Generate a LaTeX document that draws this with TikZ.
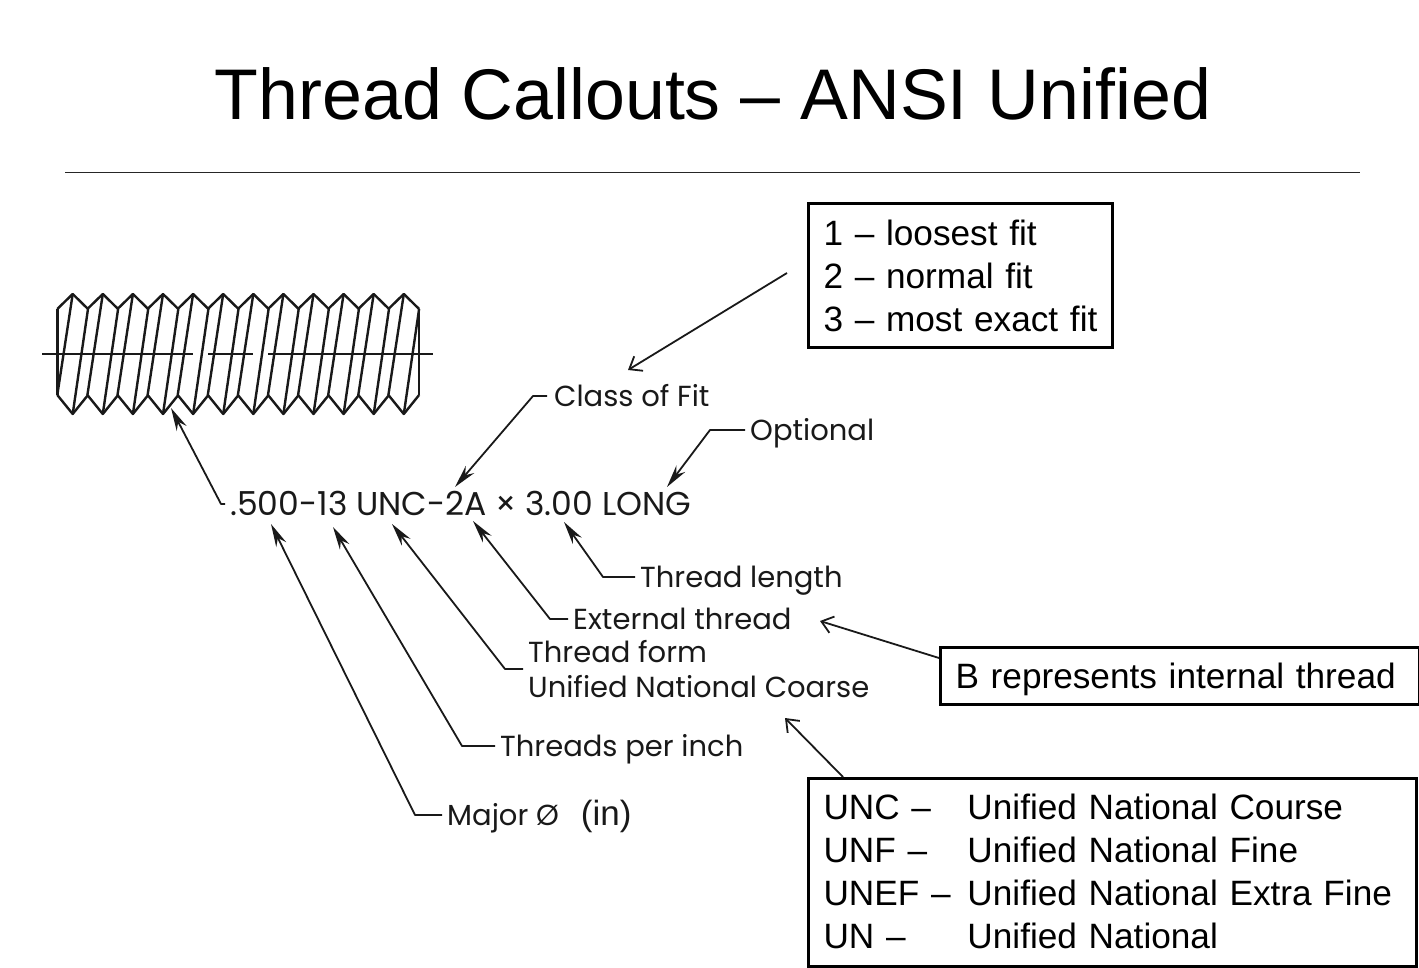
\documentclass[tikz,border=0pt]{standalone}
\usepackage{fontspec}
\setmainfont{Liberation Sans}
\newfontfamily\gothicfont{Poppins}
\usetikzlibrary{arrows.meta}
\begin{document}
\begin{tikzpicture}[x=1pt,y=-1pt,
	thread line/.style={line width=2.4pt,black!90,line join=round},
	leader/.style={line width=1.8pt,black!90,line join=round,-{Stealth[length=23pt,width=11pt]}},
	pointer/.style={line width=1.8pt,black!90,-{Straight Barb[length=11pt,width=17pt]}},
	callout/.style={font=\gothicfont\fontsize{29}{35}\selectfont,anchor=west,inner sep=5pt,align=left,text height=27pt,text depth=7pt,black!90},
	note box/.style={draw,line width=3pt,anchor=north west,inner xsep=15pt,inner ysep=0pt,align=left,font=\fontsize{35.2}{43}\selectfont}]
	
	\useasboundingbox (0,0) rectangle (1419,968);
	
	\node[font=\fontsize{71.7}{80}\selectfont] (title) at (713,94) {Thread Callouts -- ANSI Unified};
	\coordinate (ruleleft) at (65,172.5);
	\coordinate (ruleright) at (1360,172.5);
	\draw[line width=1.3pt,black!85] (ruleleft) -- (ruleright);
	
	\foreach \i in {0,...,11} {
		\draw[thread line] ({57.3+30.1*\i},309) -- ({72.7+30.1*\i},294) -- ({88+30.1*\i},309);
		\draw[thread line] ({57.3+30.1*\i},395) -- ({72.7+30.1*\i},414) -- ({88+30.1*\i},395);
		\draw[thread line] ({72.7+30.1*\i},294) -- ({57.3+30.1*\i},395);
		\draw[thread line] ({88+30.1*\i},309) -- ({72.7+30.1*\i},414);
	}
	\draw[thread line] (57.3,309) -- (57.3,395);
	\draw[thread line] (419.1,309) -- (419.1,395);
	\draw[thread line] (42,354) -- (193,354);
	\draw[thread line] (208,354) -- (253,354);
	\draw[thread line] (268,354) -- (433,354);
	
	\node[callout,font=\gothicfont\fontsize{33}{40}\selectfont,text height=30pt] (callout) at (225,504) {.500-13 UNC-2A × 3.00 LONG};
	\node[callout] (fit) at (547,396) {\hspace{2pt}Class of Fit};
	\node[callout] (optional) at (745,430) {Optional};
	\node[callout] (length) at (635,577) {Thread length};
	\node[callout] (external) at (568,619) {External thread};
	\node[callout,text height=63pt] (form) at (523,669) {Thread form\\Unified National Coarse};
	\node[callout] (tpi) at (495,746) {Threads per inch};
	\node[callout] (major) at (442,815) {Major \O\hspace{22pt}{\normalfont\fontsize{35}{40}\selectfont (in)}};
	
	\coordinate (threadtip) at (171,408);
	\coordinate (threadbend) at (221,504);
	\coordinate (majortip) at (271,524);
	\coordinate (majorbend) at (415,815);
	\coordinate (tpitip) at (333,527);
	\coordinate (tpibend) at (462,746);
	\coordinate (formtip) at (392,524);
	\coordinate (formbend) at (505,669);
	\coordinate (externaltip) at (473,521);
	\coordinate (externalbend) at (550,619);
	\coordinate (lengthtip) at (564,522);
	\coordinate (lengthbend) at (603,577);
	\coordinate (fittip) at (455,487);
	\coordinate (fitbend) at (533,396);
	\coordinate (optionaltip) at (667,487);
	\coordinate (optionalbend) at (710,430);
	
	\draw[leader] (callout.west) -- (threadbend) -- (threadtip);
	\draw[leader] (major.west) -- (majorbend) -- (majortip);
	\draw[leader] (tpi.west) -- (tpibend) -- (tpitip);
	\draw[leader] (form.west) -- (formbend) -- (formtip);
	\draw[leader] (external.west) -- (externalbend) -- (externaltip);
	\draw[leader] (length.west) -- (lengthbend) -- (lengthtip);
	\draw[leader] (fit.west) -- (fitbend) -- (fittip);
	\draw[leader] (optional.west) -- (optionalbend) -- (optionaltip);
	
	\node[note box,text width=274pt,minimum height=144pt] (fitbox) at (807,202) {1 -- loosest fit\\2 -- normal fit\\3 -- most exact fit};
	\node[note box,text width=449pt,minimum height=57pt] (threadbox) at (939,646) {\raisebox{-3pt}[\height][\depth]{B represents internal thread}};
	\node[note box,text width=578pt,minimum height=188pt] (formbox) at (807,777) {%
		\raisebox{-3pt}[\height][\depth]{\begin{tabular}{@{}p{144pt}@{}l@{}}
		UNC -- & Unified National Course\\
		UNF -- & Unified National Fine\\
		UNEF -- & Unified National Extra Fine\\
		UN -- & Unified National
		\end{tabular}}};
	
	\coordinate (fitstart) at (787,273);
	\coordinate (fitend) at (628,370);
	\coordinate (threadstart) at (939,658);
	\coordinate (threadend) at (820,621);
	\coordinate (formstart) at (843,777);
	\coordinate (formend) at (785,718);
	
	\path[pointer]
	(fitstart) edge (fitend)
	(threadstart) edge (threadend)
	(formstart) edge (formend);
\end{tikzpicture}
\end{document}
